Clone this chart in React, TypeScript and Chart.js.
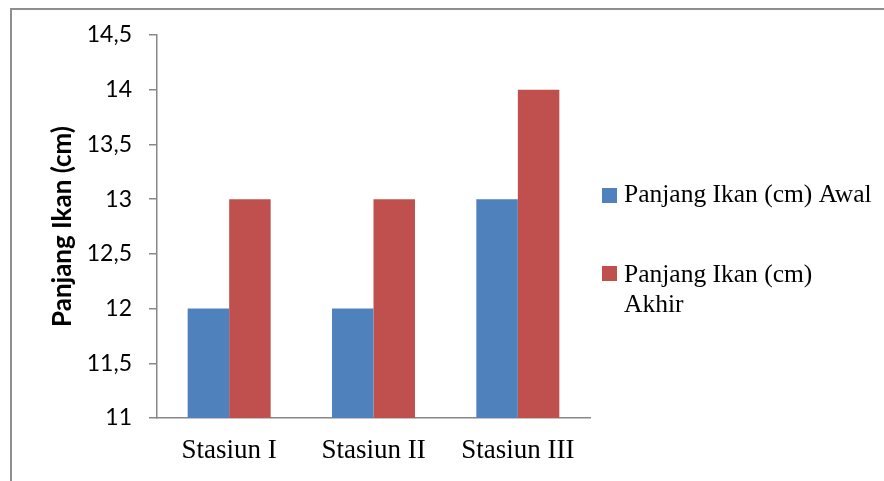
import React, { useEffect, useRef } from "react";
import { Chart, registerables } from "chart.js";

Chart.register(...registerables);

const categories = ["Stasiun I", "Stasiun II", "Stasiun III"];
const awalValues = [12, 12, 13];
const akhirValues = [13, 13, 14];
const seriesNames = ["Panjang Ikan (cm) Awal", "Panjang Ikan (cm) Akhir"];
const legendLines = [["Panjang Ikan (cm) Awal"], ["Panjang Ikan (cm)", "Akhir"]];
const axisTitle = "Panjang Ikan (cm)";
const yMin = 11;
const yMax = 14.5;
const yStep = 0.5;

const BLUE = "#4F81BD";
const RED = "#C0504D";
const GRAY = "#888888";

const framePlugin = {
  id: "frame",
  beforeDraw(chart: any) {
    const ctx = chart.ctx;
    ctx.save();
    ctx.fillStyle = "#ffffff";
    ctx.fillRect(0, 0, chart.width, chart.height);
    ctx.strokeStyle = "#8f8f8f";
    ctx.lineWidth = 2;
    ctx.beginPath();
    ctx.moveTo(11, chart.height);
    ctx.lineTo(11, 9);
    ctx.lineTo(chart.width, 9);
    ctx.stroke();
    ctx.restore();
  },
  afterDraw(chart: any) {
    const ctx = chart.ctx;
    ctx.save();
    const colors = [BLUE, RED];
    const squareTops = [188, 266];
    const baselines = [[202], [282, 312]];
    ctx.font = "25.5px 'Liberation Serif', serif";
    ctx.textBaseline = "alphabetic";
    ctx.textAlign = "left";
    legendLines.forEach((lines, i) => {
      ctx.fillStyle = colors[i];
      ctx.fillRect(602, squareTops[i], 15, 15);
      ctx.fillStyle = "#000000";
      lines.forEach((line, j) => {
        ctx.fillText(line, 624, baselines[i][j]);
      });
    });
    ctx.restore();
  },
};

export default function App() {
  const canvasRef = useRef<HTMLCanvasElement | null>(null);

  useEffect(() => {
    if (!canvasRef.current) return;
    const chart = new Chart(canvasRef.current, {
      type: "bar",
      data: {
        labels: categories,
        datasets: [
          {
            label: seriesNames[0],
            data: awalValues,
            backgroundColor: BLUE,
            barPercentage: 1,
            categoryPercentage: 0.575,
          },
          {
            label: seriesNames[1],
            data: akhirValues,
            backgroundColor: RED,
            barPercentage: 1,
            categoryPercentage: 0.575,
          },
        ],
      },
      options: {
        responsive: false,
        animation: false,
        layout: { padding: { left: 45, right: 294, top: 35, bottom: 0 } },
        plugins: {
          legend: { display: false },
          tooltip: { enabled: false },
        },
        scales: {
          x: {
            grid: { display: false, drawTicks: false },
            border: { display: true, color: GRAY, width: 1.5 },
            ticks: {
              color: "#000000",
              padding: 17,
              font: { family: "'Liberation Serif', serif", size: 27 },
            },
            afterFit(scale: any) {
              scale.height = 63;
            },
          },
          y: {
            min: yMin,
            max: yMax,
            ticks: {
              stepSize: yStep,
              color: "#000000",
              padding: 17,
              font: { family: "Lato, sans-serif", size: 23 },
              callback: (v: any) => String(v).replace(".", ","),
            },
            grid: {
              drawOnChartArea: false,
              drawTicks: true,
              tickLength: 8,
              color: GRAY,
              lineWidth: 1.5,
            },
            border: { display: true, color: GRAY, width: 1.5 },
            title: {
              display: true,
              text: axisTitle,
              color: "#000000",
              padding: { top: 2, bottom: 4 },
              font: { family: "Lato, sans-serif", size: 26, weight: "bold" },
            },
            afterFit(scale: any) {
              scale.width = 112;
            },
          },
        },
      },
      plugins: [framePlugin],
    });
    return () => chart.destroy();
  }, []);

  return (
    <div style={{ position: "fixed", left: 0, top: 0, width: 884, height: 481 }}>
      <canvas ref={canvasRef} width={884} height={481} style={{ width: 884, height: 481 }} />
    </div>
  );
}
